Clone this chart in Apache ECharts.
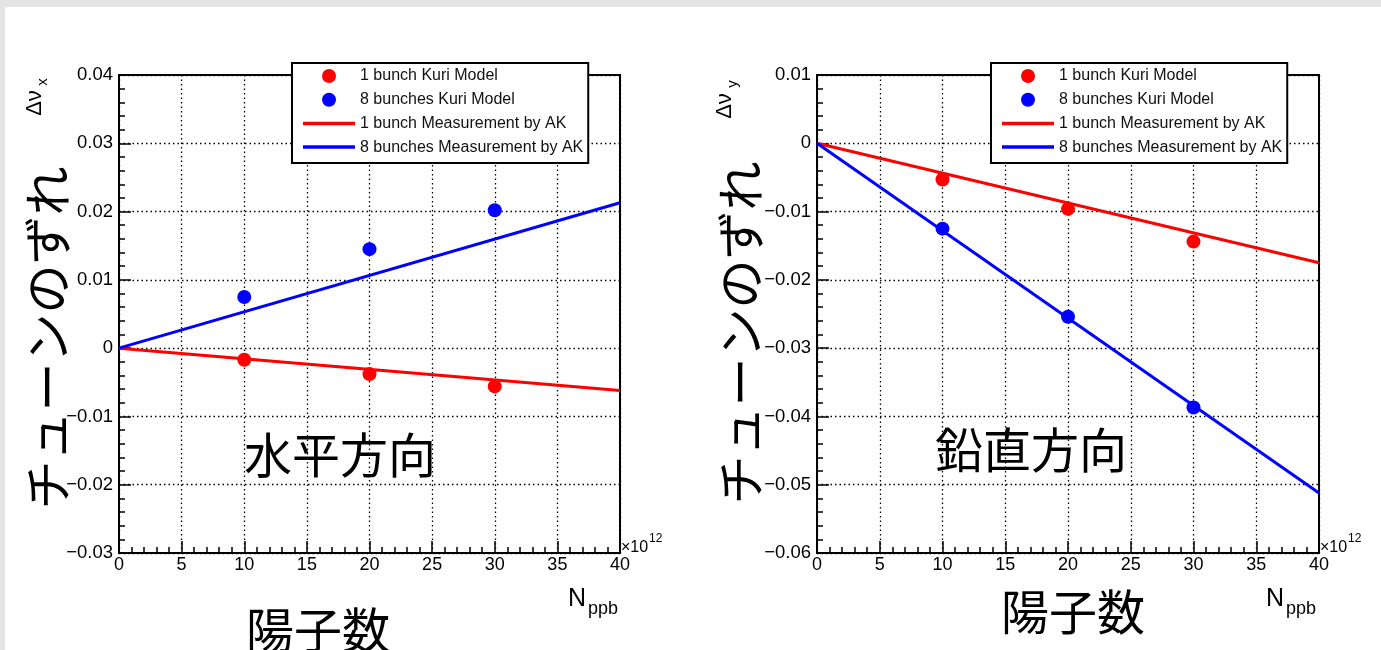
<!DOCTYPE html>
<html>
<head>
<meta charset="utf-8">
<script src="https://cdn.jsdelivr.net/npm/echarts@6/dist/echarts.min.js"></script>
<style>
html,body{margin:0;padding:0;background:#fff;}
#c{width:1381px;height:650px;}
</style>
</head>
<body>
<div id="c"></div>
<script>
// ---- data ----
const xPoints = [10, 20, 30];
const xLine = [0, 40];
// horizontal (left panel)
const hRed1 = [-0.0017, -0.0038, -0.0056];
const hBlue8 = [0.0075, 0.0145, 0.0202];
const hRed1Line = [0, -0.0062];
const hBlue8Line = [0, 0.0213];
// vertical (right panel)
const vRed1 = [-0.0053, -0.0096, -0.0144];
const vBlue8 = [-0.0125, -0.0254, -0.0387];
const vRed1Line = [0, -0.0175];
const vBlue8Line = [0, -0.0512];
// axes
const xMin = 0, xMax = 40, xStep = 5;
const hYMin = -0.03, hYMax = 0.04;
const vYMin = -0.06, vYMax = 0.01;
const yStep = 0.01;
const names = ['1 bunch Kuri Model', '8 bunches Kuri Model', '1 bunch Measurement by AK', '8 bunches Measurement by AK'];
const panelTitles = ['水平方向', '鉛直方向'];
const yTitle = 'チューンのずれ';
const xTitle = '陽子数';

const RED = '#ff0000', BLUE = '#0000ff';
const LAT = 'Liberation Sans';
const CJK = 'Noto Sans CJK JP';
const LINE_ICON = 'path://M0,0 L52,0 L52,3.5 L0,3.5 Z';

function pairs(xs, ys) { return xs.map((x, i) => [x, ys[i]]); }
function yFmt(v) {
  if (Math.abs(v) < 1e-9) return '0';
  return (v < 0 ? '\u2212' : '') + Math.abs(v).toFixed(2);
}

function xAxisCfg(gi) {
  return {
    type: 'value', gridIndex: gi, min: xMin, max: xMax, interval: xStep,
    axisLine: { show: true, onZero: false, lineStyle: { color: '#000', width: 2 } },
    axisTick: { show: true, inside: true, length: 12, lineStyle: { color: '#000', width: 1.5 } },
    minorTick: { show: true, splitNumber: 5, length: 6, lineStyle: { color: '#000', width: 1.5 } },
    splitLine: { show: true, lineStyle: { color: '#000', width: 1.3, type: [1.5, 3] } },
    axisLabel: { fontFamily: LAT, fontSize: 18, color: '#000', margin: 3 }
  };
}
function yAxisCfg(gi, mn, mx) {
  return {
    type: 'value', gridIndex: gi, min: mn, max: mx, interval: yStep,
    axisLine: { show: true, onZero: false, lineStyle: { color: '#000', width: 2 } },
    axisTick: { show: true, inside: true, length: 12, lineStyle: { color: '#000', width: 1.5 } },
    minorTick: { show: true, splitNumber: 5, length: 6, lineStyle: { color: '#000', width: 1.5 } },
    splitLine: { show: true, lineStyle: { color: '#000', width: 1.3, type: [1.5, 3] } },
    axisLabel: { fontFamily: LAT, fontSize: 18.5, color: '#000', margin: 6, formatter: yFmt }
  };
}
function scatter(name, gi, ys, color) {
  return { type: 'scatter', name, xAxisIndex: gi, yAxisIndex: gi, data: pairs(xPoints, ys),
    symbol: 'circle', symbolSize: 14, itemStyle: { color, opacity: 1 }, z: 4 };
}
function line(name, gi, ys, color) {
  return { type: 'line', name, xAxisIndex: gi, yAxisIndex: gi, data: pairs(xLine, ys),
    symbol: 'none', showSymbol: false, lineStyle: { color, width: 3 }, itemStyle: { color }, z: 3 };
}
function legendCfg(left) {
  return {
    left, top: 63, orient: 'vertical', selectedMode: false,
    data: [
      { name: names[0], icon: 'circle', itemStyle: { color: RED, opacity: 1 } },
      { name: names[1], icon: 'circle', itemStyle: { color: BLUE, opacity: 1 } },
      { name: names[2], icon: LINE_ICON, itemStyle: { color: RED } },
      { name: names[3], icon: LINE_ICON, itemStyle: { color: BLUE } }
    ],
    symbolKeepAspect: true,
    itemWidth: 52, itemHeight: 14, itemGap: 7.7, itemTextGap: 12,
    padding: [5, 5, 8, 11],
    backgroundColor: '#fff', borderColor: '#000', borderWidth: 2, borderRadius: 0,
    textStyle: { fontFamily: LAT, fontSize: 16, color: '#111', lineHeight: 15.5 },
    z: 10
  };
}
function txt(text, x, y, size, family, rot, align) {
  return { type: 'text', x, y, rotation: rot || 0, z: 20,
    style: { text, fontFamily: family, fontSize: size, fill: '#000',
      textAlign: align || 'center', textVerticalAlign: 'middle' } };
}

const chart = echarts.init(document.getElementById('c'), null, { renderer: 'canvas' });
chart.setOption({
  animation: false,
  backgroundColor: '#fff',
  grid: [
    { left: 119, top: 75, width: 501, height: 478, show: true, borderColor: '#000', borderWidth: 2, backgroundColor: 'transparent' },
    { left: 817, top: 75, width: 502, height: 478, show: true, borderColor: '#000', borderWidth: 2, backgroundColor: 'transparent' }
  ],
  xAxis: [xAxisCfg(0), xAxisCfg(1)],
  yAxis: [yAxisCfg(0, hYMin, hYMax), yAxisCfg(1, vYMin, vYMax)],
  legend: [legendCfg(292), legendCfg(991)],
  series: [
    scatter(names[0], 0, hRed1, RED),
    scatter(names[1], 0, hBlue8, BLUE),
    line(names[2], 0, hRed1Line, RED),
    line(names[3], 0, hBlue8Line, BLUE),
    scatter(names[0], 1, vRed1, RED),
    scatter(names[1], 1, vBlue8, BLUE),
    line(names[2], 1, vRed1Line, RED),
    line(names[3], 1, vBlue8Line, BLUE)
  ],
  graphic: [
    { type: 'rect', shape: { x: 0, y: 0, width: 1381, height: 7 }, style: { fill: '#e4e4e4' }, z: 30 },
    { type: 'rect', shape: { x: 0, y: 0, width: 5, height: 650 }, style: { fill: '#e4e4e4' }, z: 30 },
    // panel labels
    txt(panelTitles[0], 340, 455, 48, CJK),
    txt(panelTitles[1], 1031, 450, 48, CJK),
    // x titles (Japanese)
    txt(xTitle, 318, 630, 48, CJK),
    txt(xTitle, 1073, 612, 48, CJK),
    // y titles (Japanese, rotated)
    txt(yTitle, 47, 338, 49, CJK, Math.PI / 2),
    txt(yTitle, 740, 333, 49, CJK, Math.PI / 2),
    // Δν labels
    txt('Δν', 35, 103, 22, LAT, Math.PI / 2),
    txt('x', 43, 82, 15, LAT, Math.PI / 2),
    txt('Δν', 725, 106, 22, LAT, Math.PI / 2),
    txt('y', 733, 84, 15, LAT, Math.PI / 2),
    // N_ppb
    txt('N', 577, 599, 25, LAT),
    txt('ppb', 588, 609, 18, LAT, 0, 'left'),
    txt('N', 1275, 599, 25, LAT),
    txt('ppb', 1286, 609, 18, LAT, 0, 'left'),
    // ×10^12
    txt('×10', 621, 548, 16, LAT, 0, 'left'),
    txt('12', 649, 539, 12, LAT, 0, 'left'),
    txt('×10', 1320, 548, 16, LAT, 0, 'left'),
    txt('12', 1348, 539, 12, LAT, 0, 'left')
  ]
});
</script>
</body>
</html>
